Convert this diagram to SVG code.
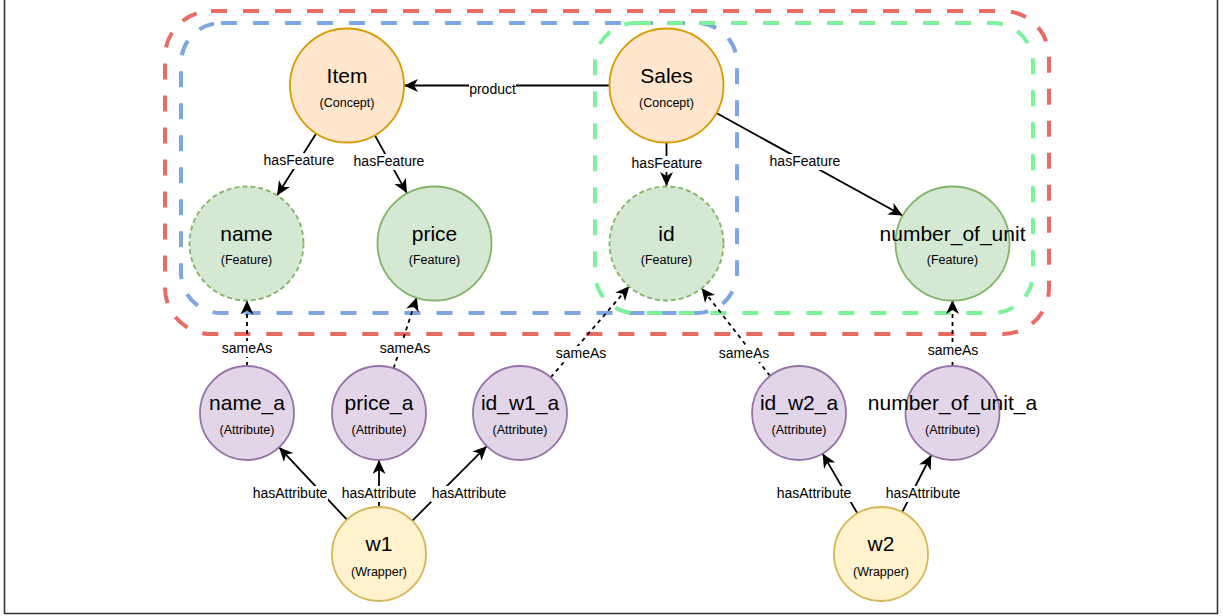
<svg xmlns="http://www.w3.org/2000/svg" width="1223" height="616" viewBox="0 0 1223 616">
  <style>
    .t { font-family: "Liberation Sans", Arial, Helvetica, sans-serif; fill: #000; text-anchor: middle; }
    .big { font-size: 21px; }
    .sub { font-size: 12.5px; }
    .lbl { font-size: 14px; }
    .lblbg { fill: #fff; stroke: none; }
    .grp { fill: none; stroke-width: 4; stroke-dasharray: 16 16; }
    .concept { fill: #ffe6cc; stroke: #d79b00; stroke-width: 1.8; }
    .feature { fill: #d5e8d4; stroke: #82b366; stroke-width: 1.8; }
    .feature.dashed { stroke-dasharray: 5 3; }
    .attr { fill: #e1d5e7; stroke: #9673a6; stroke-width: 1.8; }
    .wrap { fill: #fff2cc; stroke: #d6b656; stroke-width: 1.8; }
    .edge { fill: none; stroke: #000; stroke-width: 1.8; marker-end: url(#arrow); }
    .same { stroke-dasharray: 4 4; }
  </style>
  <defs>
    <marker id="arrow" markerUnits="userSpaceOnUse" markerWidth="15" markerHeight="13" refX="14" refY="6.5" orient="auto">
      <path d="M14,6.5 L0,0 L4,6.5 L0,13 Z" fill="#000"/>
    </marker>
  </defs>

  <rect width="1223" height="616" fill="#fff"/>
  <!-- page frame -->
  <path d="M4.5,0 V613.5 H1217.5 V0" fill="none" stroke="#333" stroke-width="1.6"/>

  <!-- grouping outlines -->
  <g id="groups">
    <rect id="group-all" class="grp" x="165" y="11" width="884" height="323" rx="46" stroke="#ea6b66"/>
    <rect id="group-w1" class="grp" x="181" y="23" width="556" height="290" rx="40" stroke="#7ea6e0"/>
    <rect id="group-w2" class="grp" x="595" y="23" width="438" height="290" rx="40" stroke="#7df29a"/>
  </g>

  <!-- connectors -->
  <g id="connectors">
    <line class="edge" x1="609" y1="85.5" x2="404" y2="85.5"/>
    <line class="edge" x1="316.5" y1="133" x2="277" y2="195.4"/>
    <line class="edge" x1="374.6" y1="134.9" x2="406.9" y2="193.1"/>
    <line class="edge" x1="666.5" y1="143" x2="666.5" y2="186"/>
    <line class="edge" x1="716.4" y1="113" x2="902.6" y2="215.5"/>

    <line class="edge same" x1="247" y1="366" x2="247" y2="300.5"/>
    <line class="edge same" x1="393.6" y1="368.3" x2="416.8" y2="297.2"/>
    <line class="edge same" x1="550.7" y1="377.4" x2="629.3" y2="286.2"/>
    <line class="edge same" x1="770" y1="375.9" x2="701.5" y2="288"/>
    <line class="edge same" x1="952.5" y1="366" x2="952.5" y2="300"/>

    <line class="edge" x1="346.9" y1="519.7" x2="279.1" y2="447.3"/>
    <line class="edge" x1="379" y1="507" x2="379" y2="460"/>
    <line class="edge" x1="412.2" y1="520.8" x2="486.8" y2="446.2"/>
    <line class="edge" x1="857.4" y1="513.4" x2="822.6" y2="453.6"/>
    <line class="edge" x1="902.2" y1="512.1" x2="931.3" y2="455"/>

    <!-- connector labels -->
    <rect class="lblbg" x="469" y="83" width="47" height="14"/>
    <text class="t lbl" x="492.5" y="94">product</text>

    <rect class="lblbg" x="263" y="153" width="72" height="16"/>
    <text class="t lbl" x="299" y="165">hasFeature</text>
    <rect class="lblbg" x="353" y="154" width="72" height="16"/>
    <text class="t lbl" x="389" y="166">hasFeature</text>
    <rect class="lblbg" x="631" y="156" width="72" height="16"/>
    <text class="t lbl" x="667" y="168">hasFeature</text>
    <rect class="lblbg" x="769" y="154" width="72" height="16"/>
    <text class="t lbl" x="805" y="166">hasFeature</text>

    <rect class="lblbg" x="221" y="341" width="52" height="16"/>
    <text class="t lbl" x="247" y="353">sameAs</text>
    <rect class="lblbg" x="379" y="341" width="52" height="16"/>
    <text class="t lbl" x="405" y="353">sameAs</text>
    <rect class="lblbg" x="555" y="346" width="52" height="16"/>
    <text class="t lbl" x="581" y="358">sameAs</text>
    <rect class="lblbg" x="718" y="346" width="52" height="16"/>
    <text class="t lbl" x="744" y="358">sameAs</text>
    <rect class="lblbg" x="927" y="343" width="52" height="16"/>
    <text class="t lbl" x="953" y="355">sameAs</text>

    <rect class="lblbg" x="252" y="486" width="76" height="16"/>
    <text class="t lbl" x="290" y="498">hasAttribute</text>
    <rect class="lblbg" x="341" y="486" width="76" height="16"/>
    <text class="t lbl" x="379" y="498">hasAttribute</text>
    <rect class="lblbg" x="431" y="486" width="76" height="16"/>
    <text class="t lbl" x="469" y="498">hasAttribute</text>
    <rect class="lblbg" x="776" y="486" width="76" height="16"/>
    <text class="t lbl" x="814" y="498">hasAttribute</text>
    <rect class="lblbg" x="885" y="486" width="76" height="16"/>
    <text class="t lbl" x="923" y="498">hasAttribute</text>
  </g>

  <!-- concepts -->
  <g id="item">
    <circle class="concept" cx="347" cy="85.5" r="57"/>
    <text class="t big" x="347" y="82.5">Item</text>
    <text class="t sub" x="347" y="106.5">(Concept)</text>
  </g>
  <g id="sales">
    <circle class="concept" cx="666.5" cy="85.5" r="57"/>
    <text class="t big" x="666.5" y="82.5">Sales</text>
    <text class="t sub" x="666.5" y="106.5">(Concept)</text>
  </g>

  <!-- features -->
  <g id="name">
    <circle class="feature dashed" cx="246.5" cy="243.5" r="57"/>
    <text class="t big" x="246.5" y="240.5">name</text>
    <text class="t sub" x="246.5" y="264">(Feature)</text>
  </g>
  <g id="price">
    <circle class="feature" cx="434.5" cy="243.5" r="57"/>
    <text class="t big" x="434.5" y="240.5">price</text>
    <text class="t sub" x="434.5" y="264">(Feature)</text>
  </g>
  <g id="id">
    <circle class="feature dashed" cx="666.5" cy="243.5" r="57"/>
    <text class="t big" x="666.5" y="240.5">id</text>
    <text class="t sub" x="666.5" y="264">(Feature)</text>
  </g>
  <g id="number_of_unit">
    <circle class="feature" cx="952.5" cy="243.5" r="57"/>
    <text class="t big" x="952.5" y="240.5">number_of_unit</text>
    <text class="t sub" x="952.5" y="264">(Feature)</text>
  </g>

  <!-- attributes -->
  <g id="name_a">
    <circle class="attr" cx="247" cy="413" r="47"/>
    <text class="t big" x="247" y="410">name_a</text>
    <text class="t sub" x="247" y="434">(Attribute)</text>
  </g>
  <g id="price_a">
    <circle class="attr" cx="379" cy="413" r="47"/>
    <text class="t big" x="379" y="410">price_a</text>
    <text class="t sub" x="379" y="434">(Attribute)</text>
  </g>
  <g id="id_w1_a">
    <circle class="attr" cx="520" cy="413" r="47"/>
    <text class="t big" x="520" y="410">id_w1_a</text>
    <text class="t sub" x="520" y="434">(Attribute)</text>
  </g>
  <g id="id_w2_a">
    <circle class="attr" cx="799" cy="413" r="47"/>
    <text class="t big" x="799" y="410">id_w2_a</text>
    <text class="t sub" x="799" y="434">(Attribute)</text>
  </g>
  <g id="number_of_unit_a">
    <circle class="attr" cx="952.5" cy="413" r="47"/>
    <text class="t big" x="952.5" y="410">number_of_unit_a</text>
    <text class="t sub" x="952.5" y="434">(Attribute)</text>
  </g>

  <!-- wrappers -->
  <g id="w1">
    <circle class="wrap" cx="379" cy="554" r="47"/>
    <text class="t big" x="379" y="551">w1</text>
    <text class="t sub" x="379" y="576">(Wrapper)</text>
  </g>
  <g id="w2">
    <circle class="wrap" cx="881" cy="554" r="47"/>
    <text class="t big" x="881" y="551">w2</text>
    <text class="t sub" x="881" y="576">(Wrapper)</text>
  </g>
</svg>
